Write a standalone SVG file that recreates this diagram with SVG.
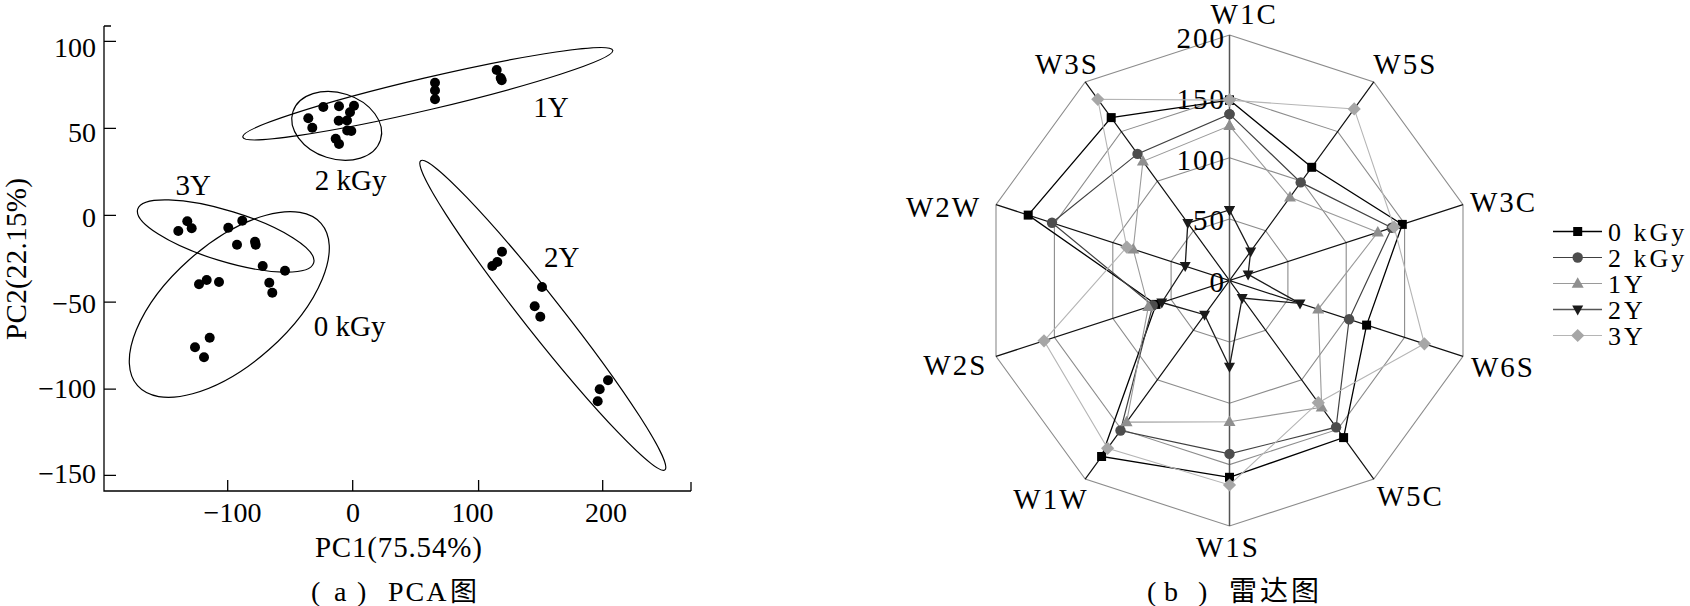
<svg xmlns="http://www.w3.org/2000/svg" width="1690" height="606" viewBox="0 0 1690 606" font-family="'Liberation Serif','Times New Roman',serif">
<style>
text{font-family:"Liberation Serif","Times New Roman","Noto Sans CJK SC",serif;fill:#000}
.lab{font-size:29px}
.tick{font-size:28px}
.rl{font-size:29px;letter-spacing:2px}
.rs{font-size:29px;letter-spacing:2px;text-anchor:end}
.cjk{font-family:"Noto Sans CJK SC","Liberation Serif",sans-serif}
.ax{stroke:#000;stroke-width:1.3;fill:none}
.ell{fill:none;stroke:#000;stroke-width:1.2}
.dot{fill:#000}
.ring{fill:none;stroke:#8c8c8c;stroke-width:1.1}
.raxis{stroke:#111;stroke-width:1.2}
.s0{fill:none;stroke:#000;stroke-width:1.3;marker:url(#mSq)}
.s1{fill:none;stroke:#404040;stroke-width:1.2;marker:url(#mCi)}
.s2{fill:none;stroke:#9a9a9a;stroke-width:1.1;marker:url(#mTu)}
.s3{fill:none;stroke:#1a1a1a;stroke-width:1.3;marker:url(#mTd)}
.s4{fill:none;stroke:#b5b5b5;stroke-width:1.1;marker:url(#mDi)}
.lg{font-size:26px;letter-spacing:3px}
</style>
<defs>
<marker id="mSq" markerUnits="userSpaceOnUse" markerWidth="10" markerHeight="10" refX="5" refY="5" orient="0" overflow="visible"><rect x="0.5" y="0.5" width="9" height="9" fill="#000"/></marker>
<marker id="mCi" markerUnits="userSpaceOnUse" markerWidth="12" markerHeight="12" refX="6" refY="6" orient="0" overflow="visible"><circle cx="6" cy="6" r="5.2" fill="#4d4d4d"/></marker>
<marker id="mTu" markerUnits="userSpaceOnUse" markerWidth="12" markerHeight="11" refX="6" refY="6.3" orient="0" overflow="visible"><polygon points="0,10.5 6,0 12,10.5" fill="#8f8f8f"/></marker>
<marker id="mTd" markerUnits="userSpaceOnUse" markerWidth="12" markerHeight="11" refX="5.5" refY="4" orient="0" overflow="visible"><polygon points="0,0 11,0 5.5,10" fill="#1a1a1a"/></marker>
<marker id="mDi" markerUnits="userSpaceOnUse" markerWidth="14" markerHeight="14" refX="6.6" refY="6.6" orient="0" overflow="visible"><polygon points="6.6,0 13.2,6.6 6.6,13.2 0,6.6" fill="#a6a6a6"/></marker>
</defs>

<!-- ===== (a) PCA ===== -->
<g id="pca-axes">
<path class="ax" d="M104,26 V491 H691 M104,26 H111 M104,41.4 H116 M104,128.3 H116 M104,215.3 H116 M104,302.2 H116 M104,389.2 H116 M104,475.4 H116 M227.7,491 V480 M352.7,491 V480 M478.6,491 V480 M602.7,491 V480 M691,491 V482"/>
<g class="tick" text-anchor="end">
<text x="96" y="56.5">100</text>
<text x="96" y="141.8">50</text>
<text x="96" y="227.2">0</text>
<text x="96" y="312.5">−50</text>
<text x="96" y="397.8">−100</text>
<text x="96" y="483.2">−150</text>
</g>
<g class="tick" text-anchor="middle">
<text x="232.5" y="521.7">−100</text>
<text x="353" y="521.7">0</text>
<text x="472.5" y="521.7">100</text>
<text x="606" y="521.7">200</text>
</g>
<text class="lab" x="398.4" y="557" text-anchor="middle" textLength="167" lengthAdjust="spacing">PC1(75.54%)</text>
<text class="lab" transform="translate(26,259) rotate(-90)" text-anchor="middle" textLength="162" lengthAdjust="spacing">PC2(22.15%)</text>
</g>

<g id="grp-3Y">
<ellipse class="ell" cx="225.7" cy="236" rx="92" ry="25.3" transform="rotate(17 225.7 236)"/>
<text class="lab" x="175.4" y="195.2">3Y</text>
</g>
<g id="grp-0kGy">
<ellipse class="ell" cx="229.3" cy="304.5" rx="122.5" ry="60.1" transform="rotate(-41.5 229.3 304.5)"/>
<text class="lab" x="313.8" y="336.3">0 kGy</text>
</g>
<g id="dots-0kGy-3Y" class="dot">
<circle cx="178.3" cy="231" r="5"/><circle cx="187.3" cy="221.3" r="5"/><circle cx="191.7" cy="228.3" r="5"/>
<circle cx="228.3" cy="227.7" r="5"/><circle cx="242.3" cy="220.7" r="5"/><circle cx="237" cy="244.7" r="5"/>
<circle cx="255" cy="241.7" r="5"/><circle cx="255.7" cy="244.7" r="5"/><circle cx="262.7" cy="266" r="5"/>
<circle cx="285" cy="270.7" r="5"/><circle cx="199" cy="284.3" r="5"/><circle cx="206.7" cy="280" r="5"/>
<circle cx="219" cy="282" r="5"/><circle cx="269.3" cy="282.7" r="5"/><circle cx="272.3" cy="292.7" r="5"/>
<circle cx="209.7" cy="337.7" r="5"/><circle cx="195" cy="347.3" r="5"/><circle cx="204" cy="357.3" r="5"/>
</g>
<g id="grp-1Y">
<ellipse class="ell" cx="427.8" cy="93.7" rx="190" ry="16" transform="rotate(-13.2 427.8 93.7)"/>
<text class="lab" x="533.3" y="116.7">1Y</text>
</g>
<g id="grp-2kGy">
<ellipse class="ell" cx="336.7" cy="125.9" rx="46" ry="33" transform="rotate(18 336.7 125.9)"/>
<text class="lab" x="314.7" y="190">2 kGy</text>
</g>
<g id="dots-2kGy-1Y" class="dot">
<circle cx="308.3" cy="118.3" r="5"/><circle cx="312.3" cy="127.7" r="5"/><circle cx="323.3" cy="107" r="5"/>
<circle cx="339" cy="106.3" r="5"/><circle cx="354" cy="105.7" r="5"/><circle cx="350" cy="112.3" r="5"/>
<circle cx="347" cy="120.5" r="5"/><circle cx="338.7" cy="120.7" r="5"/><circle cx="347.2" cy="130.5" r="5"/>
<circle cx="351.3" cy="131" r="5"/><circle cx="335.7" cy="138.7" r="5"/><circle cx="339" cy="144" r="5"/>
<circle cx="435" cy="82.7" r="5"/><circle cx="435" cy="90.5" r="5"/><circle cx="435" cy="99.3" r="5"/>
<circle cx="496.7" cy="70" r="5"/><circle cx="500.7" cy="78" r="5"/><circle cx="501.7" cy="80.3" r="5"/>
</g>
<g id="grp-2Y">
<ellipse class="ell" cx="542.8" cy="315.3" rx="197" ry="19" transform="rotate(51.7 542.8 315.3)"/>
<text class="lab" x="544" y="266.7">2Y</text>
<g class="dot">
<circle cx="502" cy="251.7" r="5"/><circle cx="497.3" cy="262" r="5"/><circle cx="492.3" cy="266" r="5"/>
<circle cx="542" cy="287" r="5"/><circle cx="534.7" cy="306.3" r="5"/><circle cx="540.3" cy="316.7" r="5"/>
<circle cx="608" cy="380.3" r="5"/><circle cx="599.7" cy="389.3" r="5"/><circle cx="597.7" cy="401.3" r="5"/>
</g>
</g>

<g id="caption-a" class="tick">
<text y="601"><tspan x="311">(</tspan><tspan x="334">a</tspan><tspan x="357">)</tspan><tspan x="388" style="letter-spacing:2px">PCA</tspan><tspan x="450" class="cjk" style="font-size:27px">图</tspan></text>
</g>

<!-- ===== (b) Radar ===== -->
<g id="radar-grid">
<polygon class="ring" points="1229.5,219.1 1265.6,230.8 1287.9,261.5 1287.9,299.5 1265.6,330.2 1229.5,341.9 1193.4,330.2 1171.1,299.5 1171.1,261.5 1193.4,230.8"/>
<polygon class="ring" points="1229.5,157.75 1301.7,181.2 1346.2,242.6 1346.2,318.4 1301.7,379.8 1229.5,403.25 1157.3,379.8 1112.8,318.4 1112.8,242.6 1157.3,181.2"/>
<polygon class="ring" points="1229.5,96.4 1337.7,131.6 1404.6,223.6 1404.6,337.4 1337.7,429.4 1229.5,464.6 1121.3,429.4 1054.4,337.4 1054.4,223.6 1121.3,131.6"/>
<polygon class="ring" points="1229.5,35 1373.8,81.9 1463,204.6 1463,356.4 1373.8,479.1 1229.5,526 1085.2,479.1 996,356.4 996,204.6 1085.2,81.9"/>
<path class="raxis" d="M1373.8,81.9 L1085.2,479.1 M1463,204.6 L996,356.4 M1463,356.4 L996,204.6 M1373.8,479.1 L1085.2,81.9"/>
<path d="M1229.5,35 V526" stroke="#555" stroke-width="1.5"/>
<g>
<text class="rs" x="1226" y="48.3">200</text>
<text class="rs" x="1226" y="109">150</text>
<text class="rs" x="1226" y="170">100</text>
<text class="rs" x="1226" y="230">50</text>
<text class="rs" x="1226" y="291.7">0</text>
</g>
<g>
<text class="rl" x="1210.6" y="24">W1C</text>
<text class="rl" x="1373.3" y="74">W5S</text>
<text class="rl" x="1470" y="211.7">W3C</text>
<text class="rl" x="1471" y="376.7">W6S</text>
<text class="rl" x="1376.7" y="506">W5C</text>
<text class="rl" x="1196" y="556.7">W1S</text>
<text class="rl" x="1013.3" y="509.3">W1W</text>
<text class="rl" x="923.3" y="375">W2S</text>
<text class="rl" x="906" y="216.7">W2W</text>
<text class="rl" x="1035" y="74">W3S</text>
</g>
</g>

<g id="radar-series">
<polygon id="s-0kGy" class="s0" points="1229.5,100.1 1311.7,167.3 1402.3,224.4 1366.6,325.1 1343.6,437.6 1229.5,477.3 1101.6,456.5 1156,304.4 1028.2,215.1 1111.2,117.6"/>
<polygon id="s-2kGy" class="s1" points="1229.5,114.1 1300.7,182.4 1391.8,227.8 1349.1,319.3 1336.1,427.2 1229.5,453.9 1120.5,430.5 1152.7,305.5 1052,222.8 1137.5,153.9"/>
<polygon id="s-1Y" class="s2" points="1229.5,125.8 1290,197.3 1377.8,232.3 1318.2,309.3 1321.7,407.4 1229.5,421.7 1126.6,422.1 1148.3,306.9 1133.2,249.2 1142.9,161.3"/>
<polygon id="s-2Y" class="s3" points="1229.5,210 1250.7,251.4 1248.1,274.4 1300,303.4 1242.2,298 1229.5,366.7 1204.6,314.7 1161.8,302.5 1185.2,266.1 1187.8,223.1"/>
<polygon id="s-3Y" class="s4" points="1229.5,100.1 1354.2,108.9 1394.1,227 1424.4,343.8 1318.3,402.7 1229.5,485 1107.6,448.3 1044,340.8 1126.8,247.1 1097.8,99.3"/>
</g>

<g id="legend">
<polyline class="s0" points="1553,231.5 1577.7,231.5 1602,231.5" style="marker-start:none;marker-end:none"/>
<polyline class="s1" points="1553,257.5 1577.7,257.5 1602,257.5" style="marker-start:none;marker-end:none"/>
<polyline class="s2" points="1553,283.5 1577.7,283.5 1602,283.5" style="marker-start:none;marker-end:none"/>
<polyline class="s3" points="1553,309.5 1577.7,309.5 1602,309.5" style="marker-start:none;marker-end:none;stroke:#555"/>
<polyline class="s4" points="1553,335.5 1577.7,335.5 1602,335.5" style="marker-start:none;marker-end:none"/>
<text class="lg" x="1608" y="240.5">0 kGy</text>
<text class="lg" x="1608" y="266.5">2 kGy</text>
<text class="lg" x="1608" y="292.5">1Y</text>
<text class="lg" x="1608" y="318.5">2Y</text>
<text class="lg" x="1608" y="344.5">3Y</text>
</g>

<g id="caption-b" class="tick">
<text y="601"><tspan x="1147">(</tspan><tspan x="1164">b</tspan><tspan x="1198">)</tspan><tspan x="1229" class="cjk" style="letter-spacing:3px">雷达图</tspan></text>
</g>
</svg>
